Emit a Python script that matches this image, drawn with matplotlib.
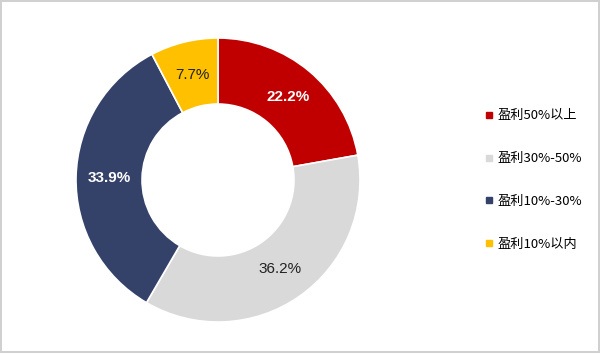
import matplotlib
matplotlib.use("Agg")
import matplotlib.pyplot as plt
from matplotlib.lines import Line2D
import numpy as np

plt.rcParams['font.family'] = ['Noto Sans CJK SC', 'DejaVu Sans']

labels = ["盈利50%以上", "盈利30%-50%", "盈利10%-30%", "盈利10%以内"]
values = [22.2, 36.2, 33.9, 7.7]
colors = ["#C00000", "#D9D9D9", "#34426A", "#FFC000"]
text_colors = ["white", "#222222", "white", "#222222"]
text_weights = ["bold", "normal", "bold", "normal"]

W, H = 600, 353
fig = plt.figure(figsize=(W / 100, H / 100), dpi=100)
fig.patch.set_edgecolor("#D0D0D0")
fig.patch.set_linewidth(1.5)

# donut centre and outer radius in pixels
cx, cy, r = 218, 180, 142
ax = fig.add_axes([(cx - r) / W, (H - cy - r) / H, 2 * r / W, 2 * r / H])

wedges, texts = ax.pie(values, colors=colors, startangle=90, counterclock=False,
                       radius=1.0,
                       wedgeprops=dict(width=0.465, edgecolor="white", linewidth=1.2))

start = 90.0
for v, tc, tw in zip(values, text_colors, text_weights):
    mid = np.deg2rad(start - v / 100 * 360 / 2)
    start -= v / 100 * 360
    ax.text(0.765 * np.cos(mid), 0.765 * np.sin(mid), f"{v:.1f}%",
            ha="center", va="center", color=tc, fontsize=11, fontweight=tw,
            family=["Liberation Sans", "DejaVu Sans"])

ax.set_xlim(-1, 1)
ax.set_ylim(-1, 1)
ax.set_aspect("equal")

handles = [Line2D([0], [0], marker="s", linestyle="none", markersize=4.5,
                  markerfacecolor=c, markeredgecolor=c) for c in colors]
fig.legend(handles, labels, loc="center left", bbox_to_anchor=(473 / W, 1 - 180 / H),
           frameon=False, fontsize=9.5, handlelength=0.6, handletextpad=0.35,
           labelspacing=2.25)

fig.savefig("out.png", dpi=100)
